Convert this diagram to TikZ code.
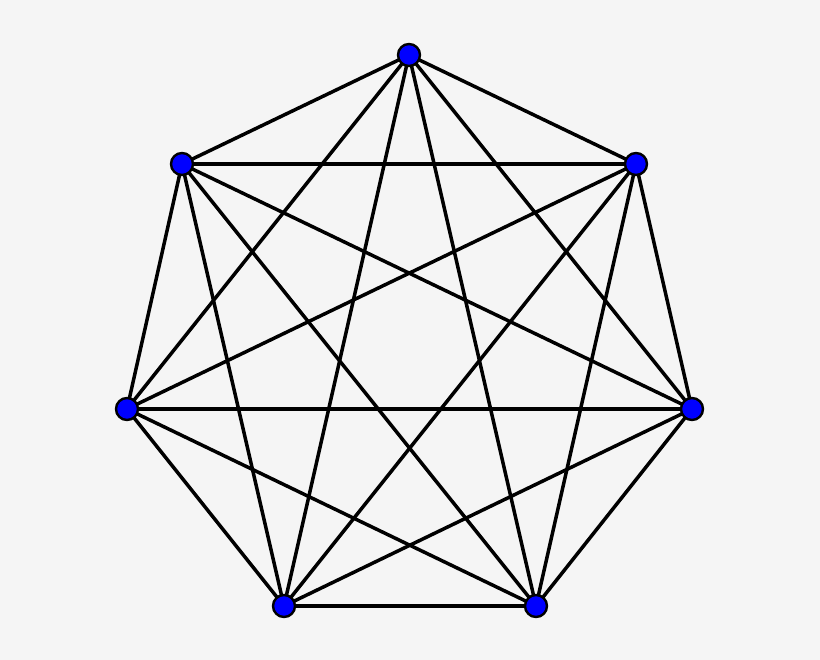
\documentclass[tikz,border=0pt]{standalone}
\usetikzlibrary{backgrounds}
\begin{document}
\begin{tikzpicture}[x=1pt,y=-1pt,
  vert/.style={circle,fill=blue,draw=black,line width=2.4pt,minimum size=22pt,inner sep=0pt},
  edge/.style={line width=3.5pt,black}]
\useasboundingbox (0,0) rectangle (820,660);
\node[vert] (v1) at (409,55) {};
\node[vert] (v2) at (636,164) {};
\node[vert] (v3) at (692,409) {};
\node[vert] (v4) at (536,606) {};
\node[vert] (v5) at (284,606) {};
\node[vert] (v6) at (127,409) {};
\node[vert] (v7) at (182,164) {};
\begin{scope}[on background layer]
\fill[black!4] (0,0) rectangle (820,660);
\foreach \i in {1,...,7}{\foreach \j in {1,...,7}{\ifnum\i<\j \draw[edge] (v\i.center) -- (v\j.center);\fi}}
\end{scope}
\end{tikzpicture}
\end{document}
